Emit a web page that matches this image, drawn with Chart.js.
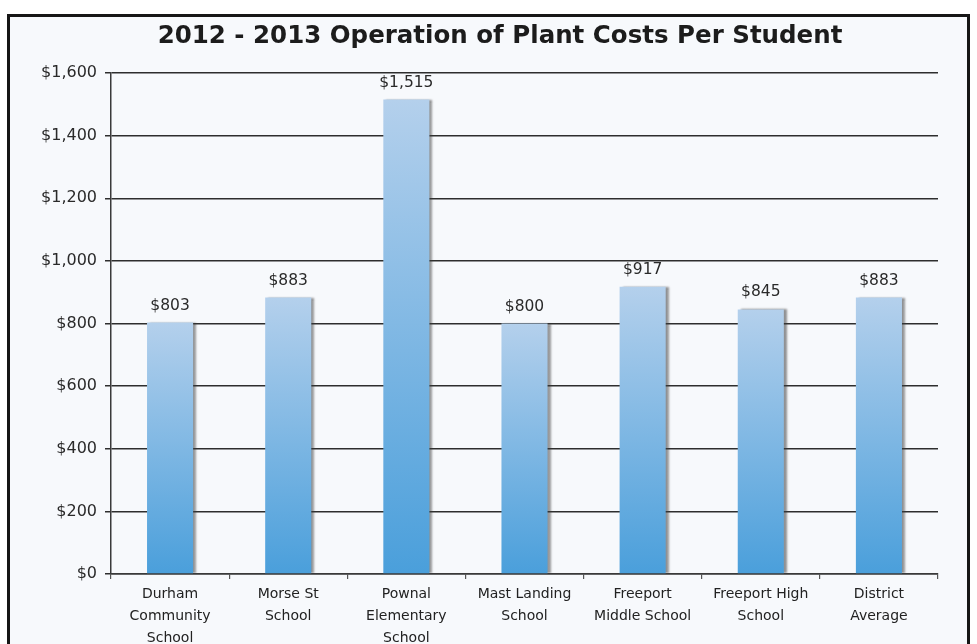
<!DOCTYPE html>
<html>
<head>
<meta charset="utf-8">
<script src="https://cdn.jsdelivr.net/npm/chart.js@4"></script>
<style>
  html, body { margin: 0; padding: 0; background: #ffffff; overflow: hidden; }
  #frame {
    position: absolute; left: 7px; top: 14px; width: 957px; height: 660px;
    border: 3px solid #161616; background: #f7f9fc;
  }
  #chart { position: absolute; left: 0; top: 0; }
</style>
</head>
<body>
<div id="frame"></div>
<canvas id="chart" width="977" height="644"></canvas>
<script>
// DADOS
const chartTitle = '2012 - 2013 Operation of Plant Costs Per Student';
const schools = [
  ['Durham', 'Community', 'School'],
  ['Morse St', 'School'],
  ['Pownal', 'Elementary', 'School'],
  ['Mast Landing', 'School'],
  ['Freeport', 'Middle School'],
  ['Freeport High', 'School'],
  ['District', 'Average']
];
const costPerStudent = [803, 883, 1515, 800, 917, 845, 883];
const yTicks = [0, 200, 400, 600, 800, 1000, 1200, 1400, 1600];

const money = v => '$' + v.toLocaleString('en-US');

// gradiente de cada barra (claro em cima, azul em baixo)
function barGradient(ctx) {
  const chart = ctx.chart;
  const area = chart.chartArea;
  if (!area) return '#7fb6e3';
  const y = chart.scales.y;
  const top = y.getPixelForValue(ctx.raw);
  const g = chart.ctx.createLinearGradient(0, top, 0, area.bottom);
  g.addColorStop(0, '#b4d0ec');
  g.addColorStop(1, '#4a9fdb');
  return g;
}

// sombra + rótulos de valor + título centrado na moldura
const barExtras = {
  id: 'barExtras',
  beforeDatasetsDraw(chart) {
    const c = chart.ctx;
    c.save();
    c.shadowColor = 'rgba(60,60,60,0.55)';
    c.shadowOffsetX = 3;
    c.shadowOffsetY = 0;
    c.shadowBlur = 2;
  },
  afterDatasetsDraw(chart) {
    const c = chart.ctx;
    c.restore();
    c.save();
    c.font = '15.5px DejaVu Sans';
    c.fillStyle = '#2a2a2a';
    c.textAlign = 'center';
    c.textBaseline = 'middle';
    chart.getDatasetMeta(0).data.forEach((bar, i) => {
      c.fillText(money(costPerStudent[i]), bar.x, bar.y - 17);
    });
    c.restore();
  },
  afterDraw(chart) {
    const c = chart.ctx;
    c.save();
    c.font = 'bold 24.5px DejaVu Sans';
    c.fillStyle = '#1c1c1c';
    c.textAlign = 'center';
    c.textBaseline = 'middle';
    c.fillText(chartTitle, 500, 37);
    c.restore();
  }
};

new Chart(document.getElementById('chart'), {
  type: 'bar',
  data: {
    labels: schools,
    datasets: [{
      data: costPerStudent,
      backgroundColor: barGradient,
      borderWidth: 0,
      barPercentage: 0.39,
      categoryPercentage: 1
    }]
  },
  options: {
    responsive: false,
    animation: false,
    layout: { padding: { left: 0, right: 39, top: 73, bottom: 0 } },
    plugins: {
      legend: { display: false },
      tooltip: { enabled: false },
      title: { display: false }
    },
    scales: {
      y: {
        min: 0,
        max: 1600,
        afterFit: s => { s.width = 111; },
        afterBuildTicks: s => { s.ticks = yTicks.map(v => ({ value: v })); },
        ticks: {
          callback: v => money(v),
          color: '#2a2a2a',
          font: { family: 'DejaVu Sans', size: 16 },
          padding: 8
        },
        grid: { color: '#2e2e2e', lineWidth: 1.5, tickLength: 6 },
        border: { color: '#3a3a3a', width: 1.5 }
      },
      x: {
        afterFit: s => { s.height = 70; },
        ticks: {
          color: '#222',
          font: { family: 'DejaVu Sans', size: 14, lineHeight: 1.57 },
          padding: 4,
          maxRotation: 0,
          autoSkip: false
        },
        grid: {
          offset: true,
          drawOnChartArea: false,
          drawTicks: true,
          tickLength: 5,
          color: '#555',
          lineWidth: 1.2
        },
        border: { color: '#3a3a3a', width: 1.6 }
      }
    }
  },
  plugins: [barExtras]
});
</script>
</body>
</html>
